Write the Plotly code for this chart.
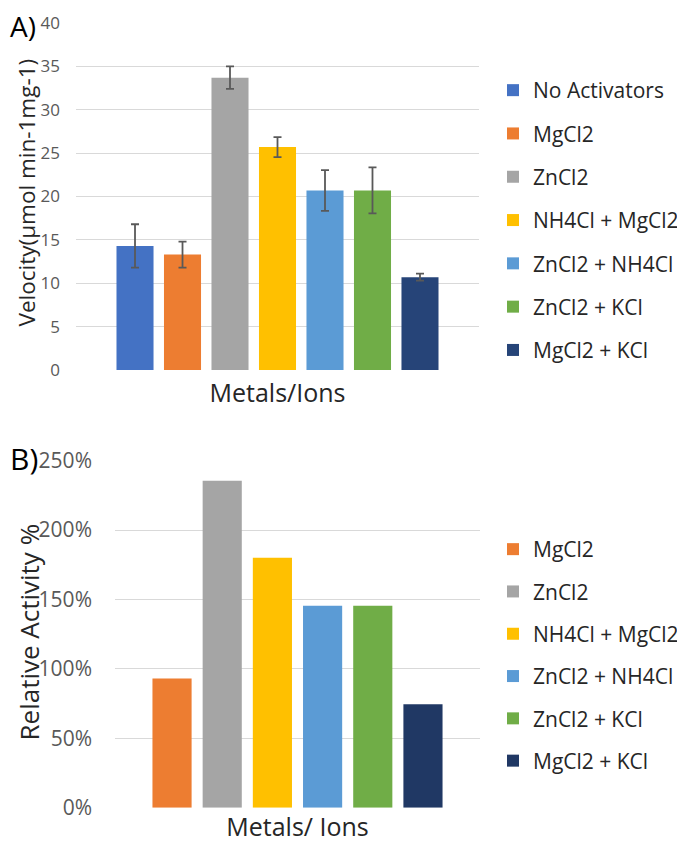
import plotly.graph_objects as go

names_a = ["No Activators", "MgCl2", "ZnCl2", "NH4Cl + MgCl2", "ZnCl2 + NH4Cl", "ZnCl2 + KCl", "MgCl2 + KCl"]
colors_a = ["#4472C4", "#ED7D31", "#A5A5A5", "#FFC000", "#5B9BD5", "#70AD47", "#264478"]
velocity = [14.3, 13.3, 33.7, 25.7, 20.7, 20.7, 10.7]
velocity_err = [2.5, 1.5, 1.3, 1.15, 2.35, 2.65, 0.4]

names_b = ["MgCl2", "ZnCl2", "NH4Cl + MgCl2", "ZnCl2 + NH4Cl", "ZnCl2 + KCl", "MgCl2 + KCl"]
colors_b = ["#ED7D31", "#A5A5A5", "#FFC000", "#5B9BD5", "#70AD47", "#203864"]
relative = [0.93, 2.355, 1.80, 1.455, 1.455, 0.745]

FONT = "Open Sans"
TXT = "#404040"
TITLE = "#262626"

fig = go.Figure()
for i, (n, c, v, e) in enumerate(zip(names_a, colors_a, velocity, velocity_err)):
    fig.add_trace(go.Bar(
        x=["Metals/Ions"], y=[v], name=n, marker=dict(color=c, line=dict(width=0)),
        error_y=dict(type="data", array=[e], color="#595959", thickness=1.8, width=4),
        xaxis="x", yaxis="y", legend="legend", legendgroup="a%d" % i,
    ))
for i, (n, c, v) in enumerate(zip(names_b, colors_b, relative)):
    fig.add_trace(go.Bar(
        x=["Metals/ Ions"], y=[v], name=n, marker=dict(color=c, line=dict(width=0)),
        xaxis="x2", yaxis="y2", legend="legend2", legendgroup="b%d" % i,
    ))

H = 845.0
W = 685.0
O = 8.0  # page offset of the plot div
fig.update_layout(
    template="none",
    width=685, height=845,
    margin=dict(l=0, r=0, t=0, b=0, pad=0),
    paper_bgcolor="white", plot_bgcolor="white",
    font=dict(family=FONT, color=TXT),
    barmode="group",
    bargap=0.175, bargroupgap=0.22,
    showlegend=True,
    xaxis=dict(domain=[(76 - O) / W, (479 - O) / W], anchor="y", showticklabels=False, showgrid=False,
               automargin=False, showline=False, ticks="", zeroline=False,
               title=dict(text="Metals/Ions", font=dict(size=25, color=TITLE), standoff=14)),
    yaxis=dict(domain=[(H - 370 + O) / H, (H - 23 + O) / H], anchor="x", range=[0, 40], dtick=5,
               automargin=False, showgrid=True, gridcolor="#D9D9D9", gridwidth=1.3,
               tickfont=dict(size=17, color="#595959"), ticklabelstandoff=15,
               showline=False, ticks="", zeroline=False),
    xaxis2=dict(domain=[(115 - O) / W, (480 - O) / W], anchor="y2", showticklabels=False, showgrid=False,
                automargin=False, showline=False, ticks="", zeroline=False,
                title=dict(text="Metals/ Ions", font=dict(size=25, color=TITLE), standoff=10)),
    yaxis2=dict(domain=[(H - 807.7 + O) / H, (H - 460.7 + O) / H], anchor="x2", range=[0, 2.5], dtick=0.5,
                tickformat=".0%", automargin=False, showgrid=True, gridcolor="#D9D9D9", gridwidth=1.3,
                tickfont=dict(size=21, color="#595959"), ticklabelstandoff=22,
                showline=False, ticks="", zeroline=False),
    legend=dict(x=485 / W, y=(H - 62) / H, xanchor="left", yanchor="top",
                font=dict(size=21, color=TITLE), traceorder="grouped", tracegroupgap=13,
                bgcolor="rgba(0,0,0,0)"),
    legend2=dict(x=485 / W, y=(H - 521) / H, xanchor="left", yanchor="top",
                 font=dict(size=21, color=TITLE), traceorder="grouped", tracegroupgap=12,
                 bgcolor="rgba(0,0,0,0)"),
    annotations=[
        dict(text="A)", x=0, y=1, xref="paper", yref="paper", xanchor="left", yanchor="top",
             yshift=3, showarrow=False, font=dict(size=28, color="#000000")),
        dict(text="B)", x=0, y=(H - 440 + O) / H, xref="paper", yref="paper", xanchor="left", yanchor="top",
             yshift=4, showarrow=False, font=dict(size=30, color="#000000")),
        dict(text="Velocity(µmol min-1mg-1)", textangle=-90, x=0, y=(H - 193 + O) / H,
             xref="paper", yref="paper", xanchor="left", yanchor="middle",
             showarrow=False, font=dict(size=22.5, color=TITLE)),
        dict(text="Relative Activity %", textangle=-90, x=0, y=(H - 632.5 + O) / H,
             xref="paper", yref="paper", xanchor="left", yanchor="middle",
             showarrow=False, font=dict(size=26, color=TITLE)),
    ],
)

fig.write_html("out.html")
